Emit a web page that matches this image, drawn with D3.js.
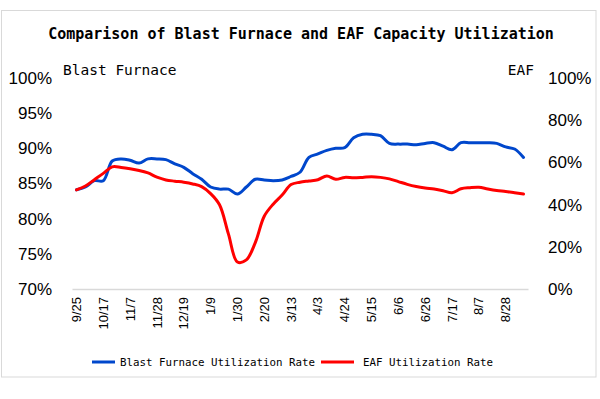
<!DOCTYPE html>
<html>
<head>
<meta charset="utf-8">
<script src="https://cdn.jsdelivr.net/npm/d3@7"></script>
<style>
  body { margin: 0; background: #fff; }
  svg text { fill: #000; }
</style>
</head>
<body>
<div id="chart"></div>
<script>
// weekly dates, every 3rd one shown on the axis
const dates = ["9/25","10/2","10/10","10/17","10/24","10/31","11/7","11/14","11/21","11/28",
  "12/5","12/12","12/19","12/26","1/2","1/9","1/16","1/23","1/30","2/6","2/13","2/20","2/27",
  "3/6","3/13","3/20","3/27","4/3","4/10","4/17","4/24","5/1","5/8","5/15","5/22","5/29",
  "6/6","6/12","6/19","6/26","7/3","7/10","7/17","7/24","7/31","8/7","8/14","8/21","8/28",
  "9/4","9/11"];

// blast furnace utilization (%), left axis
const blastFurnace = [84.1, 84.5, 85.4, 85.4, 88.2, 88.5, 88.3, 87.9, 88.5, 88.5,
  88.4, 87.8, 87.3, 86.4, 85.6, 84.5, 84.2, 84.2, 83.5, 84.5, 85.6, 85.5, 85.4,
  85.5, 86.0, 86.6, 88.7, 89.2, 89.7, 90.0, 90.1, 91.5, 92.0, 92.0, 91.8, 90.7,
  90.6, 90.6, 90.5, 90.7, 90.8, 90.3, 89.8, 90.8, 90.8, 90.8, 90.8, 90.7, 90.2,
  89.9, 88.7];

// EAF utilization (%), right axis
const eaf = [47.0, 48.8, 51.8, 54.8, 57.9, 57.6, 57.0, 56.2, 55.0, 53.0,
  51.7, 51.1, 50.6, 49.8, 48.5, 45.2, 39.9, 26.0, 12.8, 13.8, 22.0, 34.5, 40.2,
  44.5, 49.5, 50.6, 51.2, 51.8, 53.6, 52.0, 52.9, 52.7, 52.9, 53.2, 52.9, 52.2,
  50.9, 49.6, 48.6, 47.9, 47.4, 46.6, 45.6, 47.5, 48.0, 48.2, 47.4, 46.7, 46.2,
  45.6, 45.0];

const leftTicks = [70, 75, 80, 85, 90, 95, 100];
const rightTicks = [0, 20, 40, 60, 80, 100];

const W = 600, H = 399;
const margin = { left: 72, right: 72, top: 78, bottom: 110 };

const svg = d3.select("#chart").append("svg")
  .attr("width", W).attr("height", H);

// outer frame
svg.append("rect")
  .attr("x", 1.5).attr("y", 10.5)
  .attr("width", 594.5).attr("height", 366.5)
  .attr("fill", "none").attr("stroke", "#d9d9d9").attr("stroke-width", 1);

const x = d3.scaleBand().domain(dates).range([margin.left, W - margin.right]);
const yL = d3.scaleLinear().domain([70, 100]).range([289, 78]);
const yR = d3.scaleLinear().domain([0, 100]).range([289, 78]);
const cx = d => x(d) + x.bandwidth() / 2;

// title
svg.append("text")
  .attr("x", 301).attr("y", 39)
  .attr("text-anchor", "middle")
  .attr("font-family", "DejaVu Sans Mono, monospace")
  .attr("font-weight", "bold")
  .attr("font-size", "15px")
  .text("Comparison of Blast Furnace and EAF Capacity Utilization");

// axis labels
svg.append("text")
  .attr("x", 63).attr("y", 75)
  .attr("font-family", "DejaVu Sans Mono, monospace")
  .attr("font-size", "14.5px")
  .text("Blast Furnace");
svg.append("text")
  .attr("x", 534).attr("y", 75)
  .attr("text-anchor", "end")
  .attr("font-family", "DejaVu Sans Mono, monospace")
  .attr("font-size", "14.5px")
  .text("EAF");

// y axes (labels only)
const yAxisL = svg.append("g")
  .attr("transform", "translate(" + margin.left + ",0)")
  .call(d3.axisLeft(yL).tickValues(leftTicks).tickFormat(d => d + "%").tickSize(0).tickPadding(20));
const yAxisR = svg.append("g")
  .attr("transform", "translate(" + (W - margin.right) + ",0)")
  .call(d3.axisRight(yR).tickValues(rightTicks).tickFormat(d => d + "%").tickSize(0).tickPadding(20));
[yAxisL, yAxisR].forEach(g => {
  g.select(".domain").remove();
  g.selectAll("text")
    .attr("font-family", "Liberation Sans, Arial, sans-serif")
    .attr("font-size", "17px")
    .attr("fill", "#595959");
});

// x axis
const xAxis = svg.append("g")
  .attr("transform", "translate(0,289)")
  .call(d3.axisBottom(x).tickValues(dates.filter((d, i) => i % 3 === 0)).tickSize(0).tickPadding(0));
xAxis.select(".domain").attr("stroke", "#d9d9d9").attr("stroke-width", 1.5);
xAxis.selectAll("text")
  .attr("font-family", "Liberation Sans, Arial, sans-serif")
  .attr("font-size", "13px")
  .attr("fill", "#595959")
  .attr("text-anchor", "end")
  .attr("dy", "0.35em")
  .attr("transform", "translate(0,8) rotate(-90)")
  .attr("x", 0).attr("y", 0);

// lines
const lineBF = d3.line()
  .x((d, i) => cx(dates[i]))
  .y(d => yL(d))
  .curve(d3.curveCatmullRom.alpha(0.5));
const lineEAF = d3.line()
  .x((d, i) => cx(dates[i]))
  .y(d => yR(d))
  .curve(d3.curveCatmullRom.alpha(0.5));

svg.append("path").datum(blastFurnace)
  .attr("d", lineBF)
  .attr("fill", "none").attr("stroke", "#0047cc").attr("stroke-width", 3)
  .attr("stroke-linejoin", "round").attr("stroke-linecap", "round");
svg.append("path").datum(eaf)
  .attr("d", lineEAF)
  .attr("fill", "none").attr("stroke", "#ff0000").attr("stroke-width", 3)
  .attr("stroke-linejoin", "round").attr("stroke-linecap", "round");

// legend
const legend = [
  { name: "Blast Furnace Utilization Rate", color: "#0047cc", x1: 92, x2: 115, tx: 120 },
  { name: "EAF Utilization Rate", color: "#ff0000", x1: 321, x2: 354, tx: 363 }
];
const lg = svg.append("g");
legend.forEach(l => {
  lg.append("line")
    .attr("x1", l.x1).attr("x2", l.x2).attr("y1", 362).attr("y2", 362)
    .attr("stroke", l.color).attr("stroke-width", 3);
  lg.append("text")
    .attr("x", l.tx).attr("y", 366)
    .attr("font-family", "DejaVu Sans Mono, monospace")
    .attr("font-size", "10.8px")
    .attr("fill", "#404040")
    .text(l.name);
});
</script>
</body>
</html>
